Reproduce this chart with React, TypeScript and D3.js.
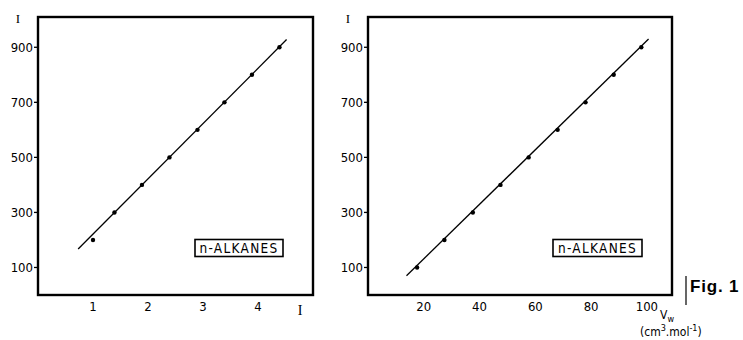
import React, { useEffect, useRef } from "react";
import * as d3 from "d3";

// left panel: topological index vs retention index
const leftX = [1.0, 1.39, 1.89, 2.39, 2.9, 3.39, 3.89, 4.39];
const leftI = [200, 300, 400, 500, 600, 700, 800, 900];
const leftLineX = [0.73, 4.52];
const leftLineI = [167, 928];
const leftTicks = [1, 2, 3, 4];

// right panel: van der Waals volume vs retention index
const rightX = [17.6, 27.4, 37.6, 47.5, 57.6, 68.0, 78.0, 88.1, 98.0];
const rightI = [100, 200, 300, 400, 500, 600, 700, 800, 900];
const rightLineX = [13.8, 100.6];
const rightLineI = [70, 930];
const rightTicks = [20, 40, 60, 80, 100];

const yTicks = [100, 300, 500, 700, 900];

const FONT = "'DejaVu Sans Condensed', 'DejaVu Sans', sans-serif";

function drawPanel(svg, opts) {
  const { x0, x1, xDomain, xs, ys, lx, ly, ticks, label } = opts;
  const top = 17;
  const bottom = 295;
  const x = d3.scaleLinear().domain(xDomain).range([x0, x1]);
  const y = d3.scaleLinear().domain([0, 1010]).range([bottom, top]);
  const g = svg.append("g");

  // frame
  g.append("rect")
    .attr("x", x0)
    .attr("y", top)
    .attr("width", x1 - x0)
    .attr("height", bottom - top)
    .attr("fill", "none")
    .attr("stroke", "#000")
    .attr("stroke-width", 2.4);

  // y axis ticks + labels
  yTicks.forEach((t) => {
    g.append("line")
      .attr("x1", x0 - 4)
      .attr("x2", x0)
      .attr("y1", y(t))
      .attr("y2", y(t))
      .attr("stroke", "#000")
      .attr("stroke-width", 1.3);
    g.append("text")
      .attr("x", x0 - 5)
      .attr("y", y(t) + 4.5)
      .attr("text-anchor", "end")
      .attr("font-family", FONT)
      .attr("font-size", 13)
      .text(t);
  });

  // x tick labels
  ticks.forEach((t) => {
    g.append("text")
      .attr("x", x(t))
      .attr("y", bottom + 16)
      .attr("text-anchor", "middle")
      .attr("font-family", FONT)
      .attr("font-size", 13)
      .text(t);
  });

  // I label on y axis
  g.append("text")
    .attr("x", x0 - 20)
    .attr("y", top + 6)
    .attr("text-anchor", "middle")
    .attr("font-family", "'Liberation Serif', serif")
    .attr("font-size", 13)
    .text("I");

  // fitted line
  const line = d3
    .line()
    .x((d) => x(d[0]))
    .y((d) => y(d[1]));
  g.append("path")
    .datum(lx.map((v, i) => [v, ly[i]]))
    .attr("d", line)
    .attr("fill", "none")
    .attr("stroke", "#000")
    .attr("stroke-width", 1.3);

  // points
  g.selectAll(".pt")
    .data(xs.map((v, i) => [v, ys[i]]))
    .enter()
    .append("circle")
    .attr("cx", (d) => x(d[0]))
    .attr("cy", (d) => y(d[1]))
    .attr("r", 2.2)
    .attr("fill", "#000");

  // legend box
  const lg = g.append("g").attr("transform", `translate(${label.x},${label.y})`);
  lg.append("rect")
    .attr("width", label.w)
    .attr("height", 17)
    .attr("fill", "#fff")
    .attr("stroke", "#000")
    .attr("stroke-width", 1.6);
  lg.append("text")
    .attr("x", label.w / 2)
    .attr("y", 13)
    .attr("text-anchor", "middle")
    .attr("font-family", FONT)
    .attr("font-size", 13.5)
    .attr("letter-spacing", 1.3)
    .text("n-ALKANES");

  return { x, y };
}

function App() {
  const ref = useRef(null);

  useEffect(() => {
    const svg = d3.select(ref.current);
    svg.selectAll("*").remove();

    drawPanel(svg, {
      x0: 38,
      x1: 313,
      xDomain: [0, 5],
      xs: leftX,
      ys: leftI,
      lx: leftLineX,
      ly: leftLineI,
      ticks: leftTicks,
      label: { x: 195, y: 239.5, w: 88 },
    });
    drawPanel(svg, {
      x0: 368,
      x1: 672,
      xDomain: [0, 109],
      xs: rightX,
      ys: rightI,
      lx: rightLineX,
      ly: rightLineI,
      ticks: rightTicks,
      label: { x: 553, y: 239.5, w: 89 },
    });

    // x axis titles
    svg.append("text")
      .attr("x", 300)
      .attr("y", 315)
      .attr("text-anchor", "middle")
      .attr("font-family", "'Liberation Serif', serif")
      .attr("font-size", 14)
      .text("I");

    const vw = svg.append("text")
      .attr("x", 660)
      .attr("y", 319)
      .attr("font-family", FONT)
      .attr("font-size", 12);
    vw.append("tspan").text("V");
    vw.append("tspan").attr("dy", 2.5).attr("font-size", 9).text("w");

    const unit = svg.append("text")
      .attr("x", 640)
      .attr("y", 336)
      .attr("font-family", FONT)
      .attr("font-size", 12);
    unit.append("tspan").text("(cm");
    unit.append("tspan").attr("dy", -5).attr("font-size", 9).text("3");
    unit.append("tspan").attr("dy", 5).text(".mol");
    unit.append("tspan").attr("dy", -5).attr("font-size", 9).text("-1");
    unit.append("tspan").attr("dy", 5).text(")");

    // figure label
    svg.append("line")
      .attr("x1", 686)
      .attr("x2", 686)
      .attr("y1", 276)
      .attr("y2", 305)
      .attr("stroke", "#000")
      .attr("stroke-width", 1.2);
    svg.append("text")
      .attr("x", 690)
      .attr("y", 292)
      .attr("font-family", "'Liberation Sans', Arial, sans-serif")
      .attr("font-weight", "bold")
      .attr("font-size", 17)
      .attr("letter-spacing", 0.8)
      .text("Fig. 1");
  }, []);

  return (
    <div style={{ position: "absolute", left: 0, top: 0 }}>
      <svg ref={ref} width="743" height="340" style={{ display: "block", background: "#fff" }}></svg>
    </div>
  );
}

export default App;
